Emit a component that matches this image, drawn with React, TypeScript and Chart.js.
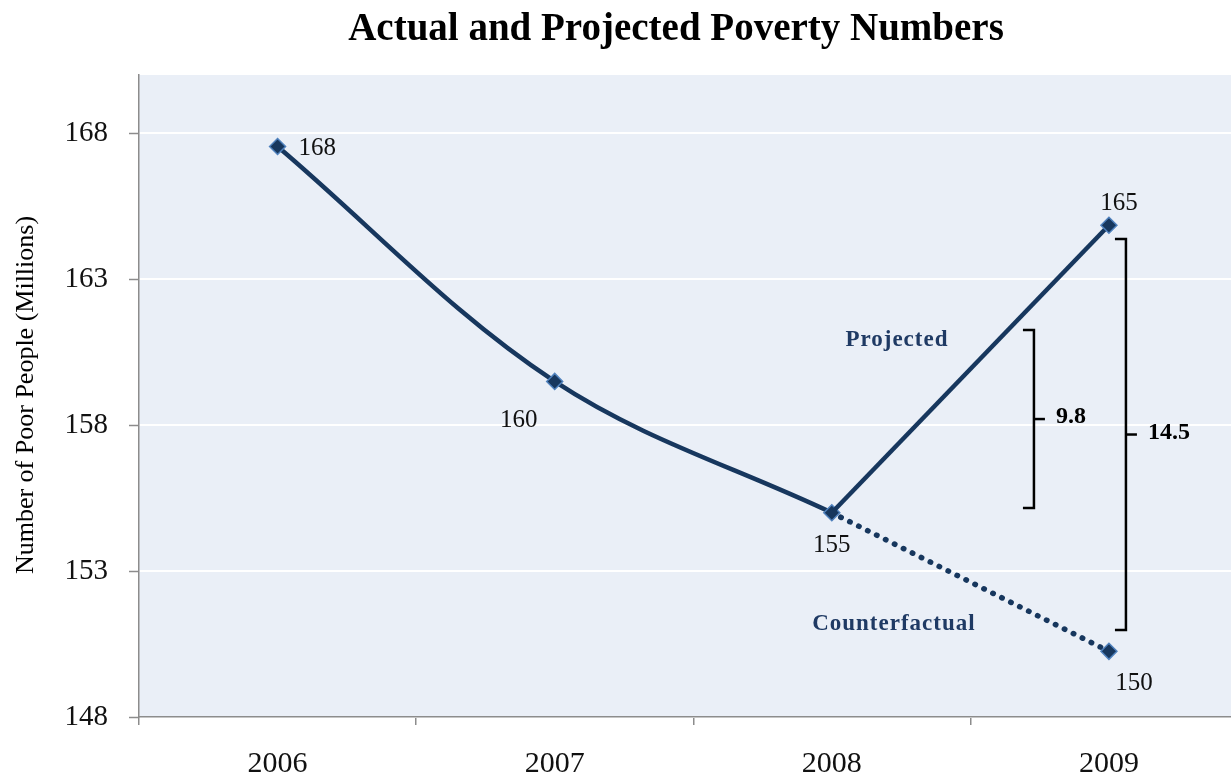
import React, { useEffect, useRef } from 'react';
import { Chart, registerables } from 'chart.js';

Chart.register(...registerables);

// ---- data ----
const categories = ['2006', '2007', '2008', '2009'];
const actualValues = [167.55, 159.5, 155.0, null];
const projectedValues = [null, null, 155.0, 164.85];
const counterfactualValues = [null, null, 155.0, 150.25];
const actualLabels = ['168', '160', '155', null];
const projectedLabels = [null, null, null, '165'];
const counterfactualLabels = [null, null, null, '150'];
const yTickValues = [148, 153, 158, 163, 168];
const bracketTexts = ['9.8', '14.5'];
const bracketFrom = [155.16, 150.98];
const bracketTo = [161.26, 164.38];
const seriesNames = ['Projected', 'Counterfactual'];
const seriesNameAt = [160.9, 151.2];

const TITLE = 'Actual and Projected Poverty Numbers';
const Y_TITLE = 'Number of Poor People (Millions)';
const SERIF = '"Liberation Serif", "DejaVu Serif", serif';
const NAVY = '#17375E';
const MARKER_BORDER = '#4F81BD';
const AXIS_GRAY = '#8C8C8C';

const decorPlugin = {
  id: 'decor',
  beforeDraw(chart: any) {
    const { ctx, chartArea } = chart;
    ctx.save();
    ctx.fillStyle = '#EAEFF7';
    ctx.fillRect(chartArea.left, chartArea.top, chartArea.right - chartArea.left, chartArea.bottom - chartArea.top);
    ctx.restore();
  },
  afterDraw(chart: any) {
    const { ctx, chartArea, scales } = chart;
    const x = scales.x;
    const y = scales.y;
    ctx.save();
    // y tick marks
    ctx.strokeStyle = AXIS_GRAY;
    ctx.lineWidth = 1.5;
    yTickValues.forEach((v) => {
      const py = Math.round(y.getPixelForValue(v)) + 0.5;
      ctx.beginPath();
      ctx.moveTo(chartArea.left - 10, py);
      ctx.lineTo(chartArea.left, py);
      ctx.stroke();
    });

    // point labels
    ctx.fillStyle = '#111';
    ctx.font = `25px ${SERIF}`;
    ctx.textBaseline = 'middle';
    const drawLabels = (labels: (string | null)[], values: (number | null)[], offs: number[][]) => {
      labels.forEach((t, i) => {
        if (!t || values[i] == null) return;
        const px = x.getPixelForValue(i);
        const py = y.getPixelForValue(values[i] as number);
        const [dx, dy, al] = offs[i];
        ctx.textAlign = al === 0 ? 'left' : 'center';
        ctx.fillText(t, px + dx, py + dy);
      });
    };
    drawLabels(actualLabels, actualValues, [[21, 2, 0], [-36, 39, 1], [0, 33, 1], [0, 0, 1]]);
    drawLabels(projectedLabels, projectedValues, [[0, 0, 1], [0, 0, 1], [0, 0, 1], [10, -22, 1]]);
    drawLabels(counterfactualLabels, counterfactualValues, [[0, 0, 1], [0, 0, 1], [0, 0, 1], [25, 32, 1]]);

    // series names
    ctx.fillStyle = '#1F3A64';
    ctx.font = `bold 23px ${SERIF}`;
    (ctx as any).letterSpacing = '1px';
    ctx.textAlign = 'center';
    ctx.fillText(seriesNames[0], x.getPixelForValue(2.235), y.getPixelForValue(seriesNameAt[0]));
    ctx.fillText(seriesNames[1], x.getPixelForValue(2.224), y.getPixelForValue(seriesNameAt[1]));
    (ctx as any).letterSpacing = '0px';

    // brackets
    const bx = [x.getPixelForValue(3) - 75, x.getPixelForValue(3) + 17];
    ctx.strokeStyle = '#000';
    ctx.lineWidth = 2.5;
    ctx.lineJoin = 'miter';
    ctx.fillStyle = '#000';
    ctx.font = `bold 24px ${SERIF}`;
    ctx.textAlign = 'left';
    bracketTexts.forEach((t, i) => {
      const top = y.getPixelForValue(bracketTo[i]);
      const bot = y.getPixelForValue(bracketFrom[i]);
      const mid = (top + bot) / 2;
      const vx = bx[i];
      ctx.beginPath();
      ctx.moveTo(vx - 11, top);
      ctx.lineTo(vx, top);
      ctx.lineTo(vx, bot);
      ctx.lineTo(vx - 11, bot);
      ctx.stroke();
      ctx.beginPath();
      ctx.moveTo(vx, mid);
      ctx.lineTo(vx + 11, mid);
      ctx.stroke();
      ctx.fillText(t, vx + 22, mid - 2);
    });

    // title
    ctx.fillStyle = '#000';
    ctx.font = `bold 100px ${SERIF}`;
    const w = ctx.measureText(TITLE).width;
    const size = (100 * 655) / w;
    ctx.font = `bold ${size.toFixed(1)}px ${SERIF}`;
    ctx.textAlign = 'center';
    ctx.textBaseline = 'alphabetic';
    ctx.fillText(TITLE, 676, 40);

    // y title
    ctx.save();
    ctx.translate(33, 395);
    ctx.rotate(-Math.PI / 2);
    ctx.font = `26px ${SERIF}`;
    ctx.textAlign = 'center';
    ctx.textBaseline = 'alphabetic';
    ctx.fillText(Y_TITLE, 0, 0);
    ctx.restore();

    ctx.restore();
  },
};

export default function App() {
  const ref = useRef<HTMLCanvasElement | null>(null);
  useEffect(() => {
    if (!ref.current) return;
    const chart = new Chart(ref.current, {
      type: 'line',
      data: {
        labels: categories,
        datasets: [
          {
            data: counterfactualValues,
            borderColor: NAVY,
            borderWidth: 5.5,
            borderDash: [0.5, 9.5],
            borderCapStyle: 'round',
            tension: 0,
            pointStyle: 'rectRot',
            pointRadius: [0, 0, 0, 8],
            pointBackgroundColor: NAVY,
            pointBorderColor: MARKER_BORDER,
            pointBorderWidth: 1.5,
          },
          {
            data: projectedValues,
            borderColor: NAVY,
            borderWidth: 4.5,
            tension: 0,
            pointStyle: 'rectRot',
            pointRadius: [0, 0, 0, 8],
            pointBackgroundColor: NAVY,
            pointBorderColor: MARKER_BORDER,
            pointBorderWidth: 1.5,
          },
          {
            data: actualValues,
            borderColor: NAVY,
            borderWidth: 4.5,
            tension: 0.35,
            pointStyle: 'rectRot',
            pointRadius: 8,
            pointBackgroundColor: NAVY,
            pointBorderColor: MARKER_BORDER,
            pointBorderWidth: 1.5,
          },
        ],
      } as any,
      options: {
        animation: false,
        responsive: false,
        devicePixelRatio: 1,
        layout: { padding: { top: 75, right: 3, left: 0, bottom: 0 } },
        plugins: { legend: { display: false }, title: { display: false }, tooltip: { enabled: false } },
        scales: {
          x: {
            type: 'category',
            offset: true,
            grid: { offset: true, drawOnChartArea: false, color: AXIS_GRAY, tickLength: 8, lineWidth: 1.5 },
            border: { display: true, color: AXIS_GRAY, width: 1.5 },
            ticks: { color: '#111', font: { family: SERIF, size: 30 }, padding: 21, maxRotation: 0 },
            afterFit: (s: any) => { s.height = 56; },
          },
          y: {
            min: 148,
            max: 170,
            grid: { color: '#FFFFFF', lineWidth: 2, drawTicks: false },
            border: { display: true, color: AXIS_GRAY, width: 1.5 },
            ticks: { color: '#111', font: { family: SERIF, size: 29 }, padding: 31 },
            afterBuildTicks: (s: any) => { s.ticks = yTickValues.map((v) => ({ value: v })); },
            afterFit: (s: any) => { s.width = 139; },
          },
        },
      } as any,
      plugins: [decorPlugin],
    });
    return () => chart.destroy();
  }, []);
  return (
    <div style={{ position: 'fixed', left: 0, top: 0, width: 1231, height: 773, overflow: 'hidden', background: '#fff' }}>
      <canvas ref={ref} width={1257} height={773} style={{ width: 1257, height: 773, display: 'block' }} />
    </div>
  );
}
